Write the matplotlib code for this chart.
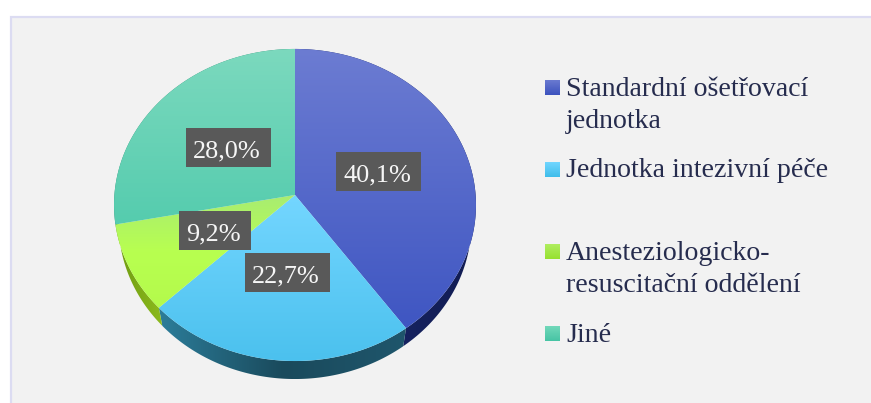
import numpy as np
import matplotlib
matplotlib.use("Agg")
import matplotlib.pyplot as plt
from matplotlib.colors import LinearSegmentedColormap
from matplotlib.patches import PathPatch, Rectangle
from matplotlib.path import Path

categories = ["Standardní ošetřovací\njednotka", "Jednotka intezivní péče",
              "Anesteziologicko-\nresuscitační oddělení", "Jiné"]
values = [40.1, 22.7, 9.2, 28.0]
labels = ["40,1%", "22,7%", "9,2%", "28,0%"]

top_colors = [("#6C7CD2", "#3F56C2"), ("#74D6FF", "#4BC1EE"),
              ("#A8EC72", "#B8FF50", "#B4FA4C"), ("#7CD9BE", "#55CCAE")]
side_colors = [("#1B2B72", "#121C52"), ("#2C7D9A", "#1A4A5C", "#1F566C"),
               ("#6E9A10", "#8CBA1E"), ("#2F8A72", "#2F8A72")]
legend_colors = [("#6A7AD0", "#3C52BE"), ("#72D6FF", "#3FBDEA"),
                 ("#B0EE60", "#96E030"), ("#72D8BA", "#46C4A4")]

PANEL = "#F2F2F2"
BORDER = "#DCDCF2"
TEXT = "#262C4E"
SERIF = "Liberation Serif"

CX, CY, RX, RY, PERSP, DEPTH, SHRINK = 295.0, 195.0, 180.6, 155.4, 0.064, 18.0, 0.975


def project(theta):
    x, y = np.sin(theta), np.cos(theta)
    w = 1 + PERSP * y
    return x / w * RX, -y / w * RY


fig = plt.figure(figsize=(8.71, 4.03), dpi=100, facecolor="white")
ax = fig.add_axes([0, 0, 1, 1])
ax.axis("off")

ax.add_patch(Rectangle((10.5, 16.5), 870, 400, facecolor=PANEL, edgecolor=BORDER, lw=1.6, zorder=0))


def gradient(verts, colors, horizontal, zorder):
    verts = np.asarray(verts)
    patch = PathPatch(Path(np.vstack([verts, verts[:1]]), closed=True), fc="none", ec="none",
                      transform=ax.transData)
    ax.add_patch(patch)
    x0, y0 = verts.min(axis=0)
    x1, y1 = verts.max(axis=0)
    ramp = np.linspace(0, 1, 256)
    data = ramp[None, :] if horizontal else ramp[:, None]
    cmap = LinearSegmentedColormap.from_list("g", list(colors))
    im = ax.imshow(data, cmap=cmap, vmin=0, vmax=1, extent=(x0, x1, y1, y0), aspect="auto",
                   interpolation="bilinear", zorder=zorder)
    im.set_clip_path(patch)


fractions = np.array(values) / sum(values)
edges = np.concatenate([[0], np.cumsum(fractions)]) * 2 * np.pi

for i in range(len(values)):
    t = np.linspace(edges[i], edges[i + 1], 200)
    px, py = project(t)
    upper = np.column_stack([CX + px, CY + py])
    lower = np.column_stack([CX + px * SHRINK, CY + py + DEPTH])
    gradient(np.vstack([upper, lower[::-1]]), side_colors[i], True, 1)

for i in range(len(values)):
    t = np.linspace(edges[i], edges[i + 1], 200)
    px, py = project(t)
    outline = np.column_stack([CX + px, CY + py])
    gradient(np.vstack([[[CX, CY]], outline]), top_colors[i], False, 2)

label_boxes = [(378.5, 171.5, 85), (287.5, 272.5, 85), (215, 230.5, 72), (228.5, 147.5, 85)]
for text, (bx, by, bw) in zip(labels, label_boxes):
    ax.add_patch(Rectangle((bx - bw / 2, by - 19.5), bw, 39, fc="#595959", ec="none", zorder=3))
    ax.text(bx - 1.5, by + 9.5, text, color="#F6F6F6", family=SERIF, fontsize=18.9,
            ha="center", va="baseline", zorder=4)

marker_tops = [80, 162, 244, 326]
baselines = [96, 177, 260, 342]
for name, top, base, cols in zip(categories, marker_tops, baselines, legend_colors):
    gradient([(545, top), (560, top), (560, top + 15), (545, top + 15)], cols, False, 3)
    for j, line in enumerate(name.split("\n")):
        ax.text(566, base + j * 32.5, line, color=TEXT, family=SERIF, fontsize=20.1,
                ha="left", va="baseline", zorder=4)

ax.set_xlim(0, 871)
ax.set_ylim(403, 0)
fig.savefig("out.png", dpi=100, facecolor="white")
